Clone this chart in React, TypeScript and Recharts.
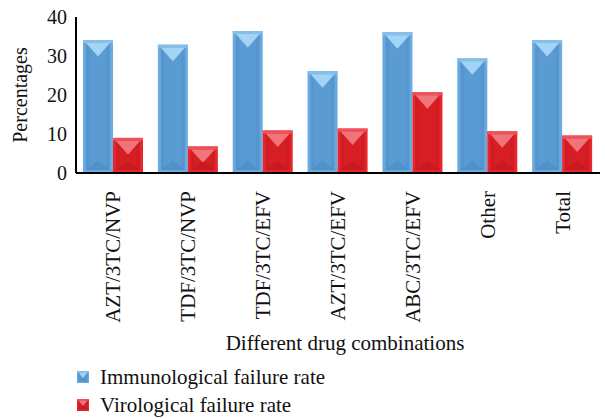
import { BarChart, Bar, XAxis, YAxis, Legend } from 'recharts';

const categories = ['AZT/3TC/NVP', 'TDF/3TC/NVP', 'TDF/3TC/EFV', 'AZT/3TC/EFV', 'ABC/3TC/EFV', 'Other', 'Total'];
const immunological = [34.1, 32.9, 36.4, 26.1, 36.1, 29.4, 34.1];
const virological = [9.0, 6.8, 10.9, 11.4, 20.7, 10.7, 9.6];
const yTicks = [0, 10, 20, 30, 40];

const data = categories.map((name, i) => ({
  name,
  immunological: immunological[i],
  virological: virological[i],
}));

const FONT = "'Liberation Serif', 'Times New Roman', serif";

const blue = { edge: '#6AAADF', base: '#5B9BD3', dark: '#3F7DB6', tri: '#A3D3F5', band: '#86BFEA' };
const red = { edge: '#E6262D', base: '#D81E25', dark: '#B0151B', tri: '#F07479', band: '#EC5258' };

type Tone = typeof blue;

function bevel(x: number, y: number, w: number, h: number, t: Tone, b: number) {
  const depth = Math.min(w * 0.45, h / 2);
  return (
    <g>
      <rect x={x} y={y} width={w} height={h} fill={t.edge} />
      <rect x={x + b} y={y + b} width={Math.max(w - 2 * b, 0)} height={Math.max(h - 2 * b, 0)} fill={t.base} />
      <rect x={x + b} y={y + b} width={Math.max(w * 0.12, 0)} height={Math.max(h - 2 * b, 0)} fill={t.dark} opacity={0.18} />
      <rect x={x + w - b - w * 0.12} y={y + b} width={Math.max(w * 0.12, 0)} height={Math.max(h - 2 * b, 0)} fill={t.dark} opacity={0.18} />
      <rect x={x} y={y} width={w} height={Math.min(b, h)} fill={t.band} />
      <polygon points={`${x + b},${y + b} ${x + w - b},${y + b} ${x + w / 2},${y + b + depth}`} fill={t.tri} />
      <polygon
        points={`${x + b},${y + h - b} ${x + w - b},${y + h - b} ${x + w / 2},${y + h - b - depth * 0.7}`}
        fill={t.dark}
        opacity={0.35}
      />
    </g>
  );
}

const BlueBar = (p: any) => bevel(p.x, p.y, p.width, p.height, blue, 3);
const RedBar = (p: any) => bevel(p.x, p.y, p.width, p.height, red, 3);

const CategoryTick = ({ x, y, payload }: any) => (
  <text
    x={x}
    y={y + 10}
    transform={`rotate(-90, ${x}, ${y + 10})`}
    textAnchor="end"
    dominantBaseline="central"
    style={{ fontFamily: FONT, fontSize: 21 }}
    fill="#111"
  >
    {payload.value}
  </text>
);

const ValueTick = ({ x, y, payload }: any) => (
  <text x={x - 1} y={y} textAnchor="end" dominantBaseline="central" style={{ fontFamily: FONT, fontSize: 20 }} fill="#111">
    {payload.value}
  </text>
);

const YTitle = ({ viewBox }: any) => {
  const cy = viewBox.y + viewBox.height / 2;
  return (
    <text
      x={20}
      y={cy}
      transform={`rotate(-90, 20, ${cy})`}
      textAnchor="middle"
      dominantBaseline="central"
      style={{ fontFamily: FONT, fontSize: 20 }}
      fill="#111"
    >
      Percentages
    </text>
  );
};

const XTitle = ({ viewBox }: any) => (
  <text
    x={viewBox.x + viewBox.width / 2 + 7}
    y={viewBox.y + viewBox.height - 20}
    textAnchor="middle"
    dominantBaseline="central"
    style={{ fontFamily: FONT, fontSize: 21 }}
    fill="#111"
  >
    Different drug combinations
  </text>
);

const LegendBox = ({ payload }: any) => (
  <div style={{ paddingLeft: 77, fontFamily: FONT, fontSize: 21, color: '#111' }}>
    {(payload || []).map((entry: any) => (
      <div key={entry.value} style={{ display: 'flex', alignItems: 'center', height: 28 }}>
        <svg width={12} height={12} style={{ marginRight: 11 }}>
          {bevel(0, 0, 12, 12, entry.dataKey === 'virological' ? red : blue, 1.5)}
        </svg>
        <span>{entry.value}</span>
      </div>
    ))}
  </div>
);

export default function App() {
  return (
    <div style={{ position: 'absolute', left: 0, top: 0, background: '#fff' }}>
      <BarChart
        width={605}
        height={419}
        data={data}
        margin={{ top: 17, right: 5, left: 0, bottom: 0 }}
        barGap={0}
        barCategoryGap={7}
      >
        <YAxis
          width={76}
          domain={[0, 40]}
          ticks={yTicks}
          interval={0}
          tickLine={false}
          axisLine={{ stroke: '#000', strokeWidth: 2 }}
          tick={<ValueTick />}
          label={<YTitle />}
        />
        <XAxis
          dataKey="name"
          height={190}
          interval={0}
          tickLine={false}
          axisLine={{ stroke: '#000', strokeWidth: 2 }}
          tick={<CategoryTick />}
          label={<XTitle />}
        />
        <Legend verticalAlign="bottom" align="left" height={56} content={<LegendBox />} />
        <Bar dataKey="immunological" name="Immunological failure rate" fill={blue.base} shape={BlueBar} isAnimationActive={false} />
        <Bar dataKey="virological" name="Virological failure rate" fill={red.base} shape={RedBar} isAnimationActive={false} />
      </BarChart>
    </div>
  );
}
